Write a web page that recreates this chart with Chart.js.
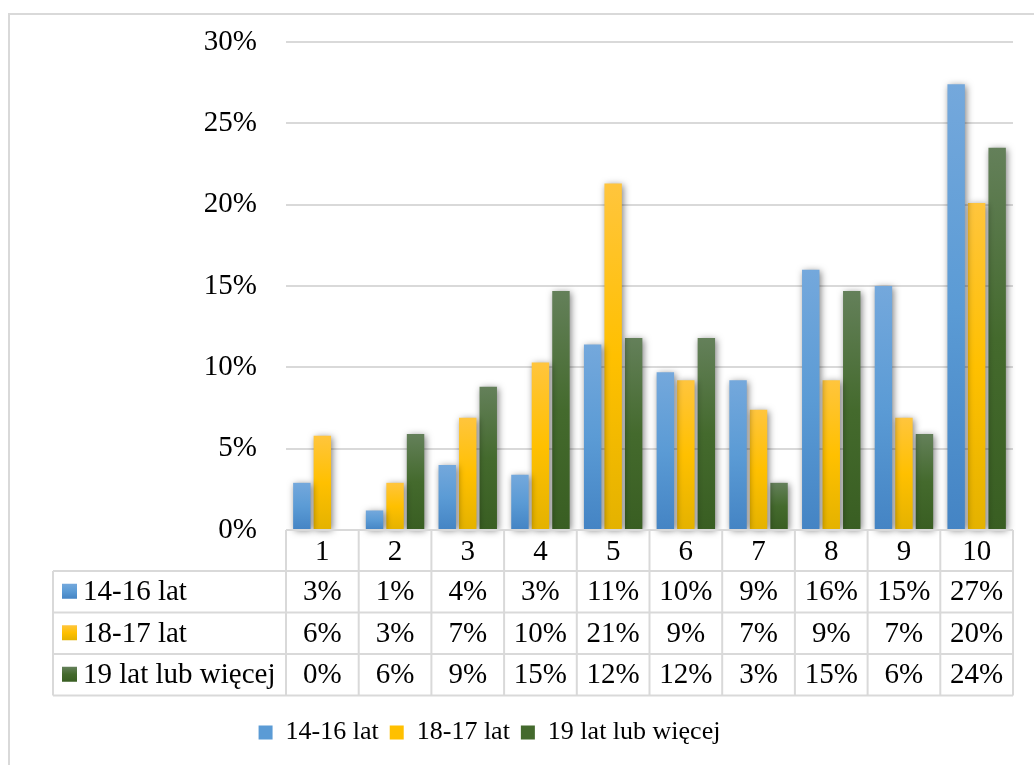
<!DOCTYPE html>
<html>
<head>
<meta charset="utf-8">
<script src="https://cdn.jsdelivr.net/npm/chart.js@4.4.0/dist/chart.umd.min.js"></script>
<style>
  html, body { margin: 0; padding: 0; background: #fff; }
  #wrap { width: 1034px; height: 765px; position: relative; }
</style>
</head>
<body>
<div id="wrap"><canvas id="wykres"></canvas></div>
<script>
// dane (w %)
const kategorie = ['1', '2', '3', '4', '5', '6', '7', '8', '9', '10'];
const nazwySerii = ['14-16 lat', '18-17 lat', '19 lat lub więcej'];
const wiek14_16 = [2.9, 1.2, 4.0, 3.4, 11.4, 9.7, 9.2, 16.0, 15.0, 27.4];
const wiek18_17 = [5.8, 2.9, 6.9, 10.3, 21.3, 9.2, 7.4, 9.2, 6.9, 20.1];
const wiek19 = [0, 5.9, 8.8, 14.7, 11.8, 11.8, 2.9, 14.7, 5.9, 23.5];
const osY = { min: 0, max: 30, krok: 5 };

// kolory gradientu: gora, srodek, dol
const kolory = [
    ['#74a8dc', '#5b9bd5', '#4484c4'],
    ['#ffc53d', '#ffc000', '#e4b200'],
    ['#64805a', '#446a2d', '#395e22']
];
const SZARY = '#d9d9d9';
const CZCIONKA = '"Liberation Serif", "Times New Roman", serif';

function gradient(context, i) {
    const chart = context.chart;
    const y = chart.scales.y;
    if (!y || context.raw == null) return kolory[i][1];
    const top = y.getPixelForValue(context.raw);
    const base = y.getPixelForValue(0);
    if (!isFinite(top) || !isFinite(base) || Math.abs(base - top) < 1) return kolory[i][1];
    const g = chart.ctx.createLinearGradient(0, top, 0, base);
    g.addColorStop(0, kolory[i][0]);
    g.addColorStop(0.5, kolory[i][1]);
    g.addColorStop(1, kolory[i][2]);
    return g;
}

// ramka + cien pod slupkami
const tlo = {
    id: 'tlo',
    afterLayout(chart) {
        // legenda w oryginale jest przesunieta nieco w lewo
        if (chart.legend) {
            chart.legend.left -= 17;
            chart.legend.right -= 17;
        }
    },
    beforeDraw(chart) {
        const ctx = chart.ctx;
        ctx.save();
        ctx.fillStyle = '#fff';
        ctx.fillRect(0, 0, chart.width, chart.height);
        ctx.strokeStyle = SZARY;
        ctx.lineWidth = 2;
        ctx.strokeRect(9, 14, chart.width + 50, chart.height + 50);
        ctx.restore();
    },
    beforeDatasetsDraw(chart) {
        const ctx = chart.ctx;
        ctx.save();
        ctx.shadowColor = 'rgba(0,0,0,0.5)';
        ctx.shadowBlur = 7;
        ctx.shadowOffsetX = 1.5;
        ctx.shadowOffsetY = 1.5;
    },
    afterDatasetsDraw(chart) {
        chart.ctx.restore();
    }
};

// tabela danych pod osia X
const tabela = {
    id: 'tabela',
    afterDraw(chart) {
        const ctx = chart.ctx;
        const x = chart.scales.x;
        const area = chart.chartArea;
        const szer = (area.right - area.left) / kategorie.length;
        const gora = area.bottom;
        const wNaglowka = 41;
        const wWiersza = 41.5;
        const lewa = 53;
        const dol = gora + wNaglowka + wWiersza * nazwySerii.length;

        ctx.save();
        ctx.strokeStyle = SZARY;
        ctx.lineWidth = 2;
        ctx.beginPath();
        // linia osi
        ctx.moveTo(area.left, gora);
        ctx.lineTo(area.right, gora);
        // linie poziome wierszy
        for (let r = 0; r <= nazwySerii.length; r++) {
            const yy = gora + wNaglowka + r * wWiersza;
            ctx.moveTo(lewa, yy);
            ctx.lineTo(area.right, yy);
        }
        // linie pionowe
        ctx.moveTo(lewa, gora + wNaglowka);
        ctx.lineTo(lewa, dol);
        for (let c = 0; c <= kategorie.length; c++) {
            const xx = area.left + c * szer;
            ctx.moveTo(xx, gora);
            ctx.lineTo(xx, dol);
        }
        ctx.stroke();

        ctx.font = '29px ' + CZCIONKA;
        ctx.textBaseline = 'middle';
        chart.data.datasets.forEach((ds, r) => {
            const yy = gora + wNaglowka + r * wWiersza + wWiersza / 2;
            // znacznik serii
            const g = ctx.createLinearGradient(0, yy - 8, 0, yy + 7);
            g.addColorStop(0, kolory[r][0]);
            g.addColorStop(0.5, kolory[r][1]);
            g.addColorStop(1, kolory[r][2]);
            ctx.fillStyle = g;
            ctx.fillRect(62, yy - 8, 15, 15);
            ctx.fillStyle = '#000';
            ctx.textAlign = 'left';
            ctx.fillText(ds.label, 83, yy + 1);
            ctx.textAlign = 'center';
            ds.data.forEach((v, c) => {
                ctx.fillText(Math.round(v) + '%', x.getPixelForValue(c), yy + 1);
            });
        });
        ctx.restore();
    }
};

const ctx = document.getElementById('wykres').getContext('2d');
new Chart(ctx, {
    type: 'bar',
    data: {
        labels: kategorie,
        datasets: [
            { label: nazwySerii[0], data: wiek14_16, backgroundColor: c => gradient(c, 0) },
            { label: nazwySerii[1], data: wiek18_17, backgroundColor: c => gradient(c, 1) },
            { label: nazwySerii[2], data: wiek19, backgroundColor: c => gradient(c, 2) }
        ]
    },
    options: {
        responsive: true,
        maintainAspectRatio: false,
        animation: false,
        devicePixelRatio: 1,
        layout: { padding: { top: 42, right: 21, bottom: 9.5, left: 0 } },
        datasets: {
            bar: { categoryPercentage: 0.846, barPercentage: 0.85, clip: false, borderWidth: 0 }
        },
        scales: {
            x: {
                grid: { display: false, drawTicks: false },
                border: { display: false },
                ticks: {
                    color: '#000',
                    padding: 5,
                    maxRotation: 0,
                    font: { family: CZCIONKA, size: 29 }
                },
                afterFit: s => { s.height = 178.5; s.paddingLeft = 0; s.paddingRight = 0; }
            },
            y: {
                min: osY.min,
                max: osY.max,
                grid: { color: SZARY, lineWidth: 2, drawTicks: false },
                border: { display: false },
                ticks: {
                    stepSize: osY.krok,
                    padding: 29,
                    color: '#000',
                    font: { family: CZCIONKA, size: 29 },
                    callback: v => v + '%'
                },
                afterFit: s => { s.width = 286; s.paddingTop = 0; s.paddingBottom = 0; }
            }
        },
        plugins: {
            legend: {
                position: 'bottom',
                labels: {
                    color: '#000',
                    boxWidth: 14,
                    boxHeight: 14,
                    padding: 11,
                    font: { family: CZCIONKA, size: 26 },
                    generateLabels: chart => {
                        const items = Chart.defaults.plugins.legend.labels.generateLabels(chart);
                        items.forEach((it, i) => {
                            it.fillStyle = kolory[i][1];
                            it.strokeStyle = kolory[i][1];
                            it.lineWidth = 0;
                        });
                        return items;
                    }
                }
            },
            tooltip: { enabled: false }
        }
    },
    plugins: [tlo, tabela]
});
</script>
</body>
</html>
